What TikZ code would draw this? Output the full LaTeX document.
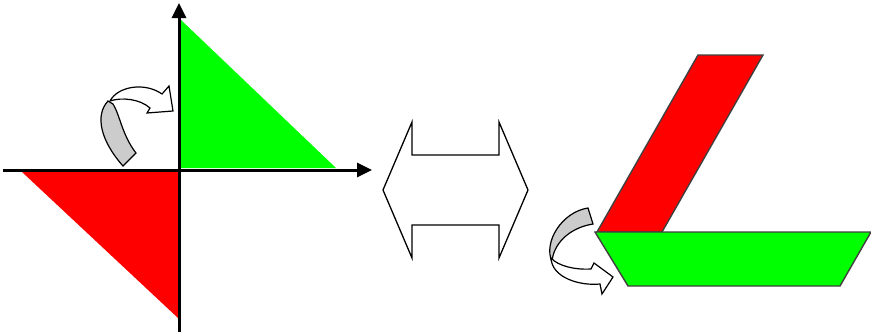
\documentclass[tikz,border=0pt]{standalone}
\usetikzlibrary{arrows.meta}
\definecolor{pgreen}{RGB}{0,255,0}
\definecolor{pred}{RGB}{255,0,0}
\definecolor{pgray}{RGB}{204,204,204}
\definecolor{edgegray}{RGB}{64,64,64}
\tikzset{
  axis/.style={line width=3pt,-{Triangle[length=15pt,width=14pt]}},
  tri/.style={draw=none},
  slab/.style={draw=edgegray,line width=1.4pt,line join=miter},
  bentarrow/.style={draw=black,line width=1.2pt,line join=miter},
  dblarrow/.style={draw=black,line width=1.3pt,fill=white,line join=miter}
}
\begin{document}
\begin{tikzpicture}[x=1pt,y=-1pt]
\useasboundingbox (0,0) rectangle (871,332);

% triangles in the two quadrants
\fill[pgreen] (181,20) -- (181,168) -- (336,168) -- cycle;
\fill[pred] (22,172) -- (178,172) -- (178,318) -- cycle;

% coordinate axes
\coordinate (xs) at (3,170);
\coordinate (xe) at (372,170);
\coordinate (ys) at (179,332);
\coordinate (ye) at (179,3);
\draw[axis] (xs) -- (xe);
\draw[axis] (ys) -- (ye);

% bent rotation arrow, upper left
\draw[bentarrow,fill=pgray] (108,101) .. controls (95,115) and (100,140) .. (123,166)
  -- (136,153) .. controls (122,135) and (120,115) .. (113,104) -- cycle;
\draw[bentarrow,fill=white] (110,101) .. controls (118,86) and (145,82) .. (162,94)
  -- (169,86) -- (173,111) -- (147,113) -- (150,108)
  .. controls (140,99) and (122,97) .. (110,101) -- cycle;

% double-headed arrow
\draw[dblarrow] (383,190) -- (412,122) -- (412,155) -- (499,155) -- (499,122)
  -- (528,190) -- (499,258) -- (499,225) -- (412,225) -- (412,258) -- cycle;

% L-shaped figure
\draw[slab,fill=pred] (698,55) -- (763,55) -- (662,232) -- (597,232) -- cycle;
\draw[slab,fill=pgreen] (595,232) -- (871,232) -- (840,286) -- (628,286) -- cycle;

% bent rotation arrow, lower right
\draw[bentarrow,fill=pgray] (588,208) .. controls (562,212) and (543,242) .. (552,262)
  .. controls (553,245) and (568,228) .. (593,224) -- cycle;
\draw[bentarrow,fill=white] (551,258) .. controls (552,278) and (580,286) .. (600,284)
  -- (602,294) -- (613,277) -- (594,263) -- (591,269)
  .. controls (575,270) and (558,266) .. (551,258) -- cycle;
\end{tikzpicture}
\end{document}
